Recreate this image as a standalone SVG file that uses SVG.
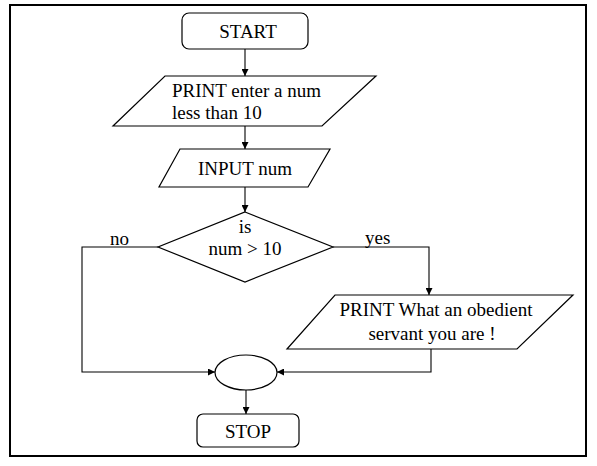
<svg xmlns="http://www.w3.org/2000/svg" width="597" height="466" viewBox="0 0 597 466">
<defs>
<marker id="ah" viewBox="0 0 10 10" refX="10" refY="5" markerWidth="7" markerHeight="7" markerUnits="userSpaceOnUse" orient="auto">
<path d="M0,0 L10,5 L0,10 z" fill="#000"/>
</marker>
<style>
.s{fill:#fff;stroke:#000;stroke-width:1.2}
.c{fill:none;stroke:#000;stroke-width:1.1}
.t{font-family:'Liberation Serif','DejaVu Serif',serif;font-size:19px;fill:#000}
.m{text-anchor:middle}
</style>
</defs>
<rect x="0" y="0" width="597" height="466" fill="#fff"/>
<rect x="10" y="5" width="576" height="451" fill="none" stroke="#000" stroke-width="2"/>
<g id="connectors">
<path class="c" d="M245,49 V76" marker-end="url(#ah)"/>
<path class="c" d="M245,126 V149" marker-end="url(#ah)"/>
<path class="c" d="M245,187 V212" marker-end="url(#ah)"/>
<path class="c" d="M333,247 H429 V295" marker-end="url(#ah)"/>
<path class="c" d="M431,349 V372 H277" marker-end="url(#ah)"/>
<path class="c" d="M158,247 H82 V372 H215" marker-end="url(#ah)"/>
<path class="c" d="M246,390 V414" marker-end="url(#ah)"/>
<text class="t" x="110" y="245" font-family="Liberation Serif, serif">no</text>
<text class="t" x="365" y="244" font-family="Liberation Serif, serif">yes</text>
</g>
<g id="start">
<rect class="s" x="182" y="13" width="126" height="36" rx="7"/>
<text class="t m" x="248" y="38">START</text>
</g>
<g id="print1">
<polygon class="s" points="165,76 376,76 322,126 113,126"/>
<text class="t" x="172" y="97">PRINT enter a num</text>
<text class="t" x="172" y="119">less than 10</text>
</g>
<g id="input">
<polygon class="s" points="180,149 330,149 308,187 159,187"/>
<text class="t m" x="245" y="175">INPUT num</text>
</g>
<g id="decision">
<polygon class="s" points="245,212 333,247 245,282 158,247"/>
<text class="t m" x="245" y="233">is</text>
<text class="t m" x="245" y="255">num &gt; 10</text>
</g>
<g id="print2">
<polygon class="s" points="335,295 573,295 517,349 287,349"/>
<text class="t m" x="436" y="316">PRINT What an obedient</text>
<text class="t m" x="432" y="340">servant you are !</text>
</g>
<g id="join">
<ellipse class="s" cx="246" cy="372.5" rx="31" ry="17.5"/>
</g>
<g id="stop">
<rect class="s" x="197" y="414" width="102" height="33" rx="6"/>
<text class="t m" x="248" y="438">STOP</text>
</g>
</svg>
